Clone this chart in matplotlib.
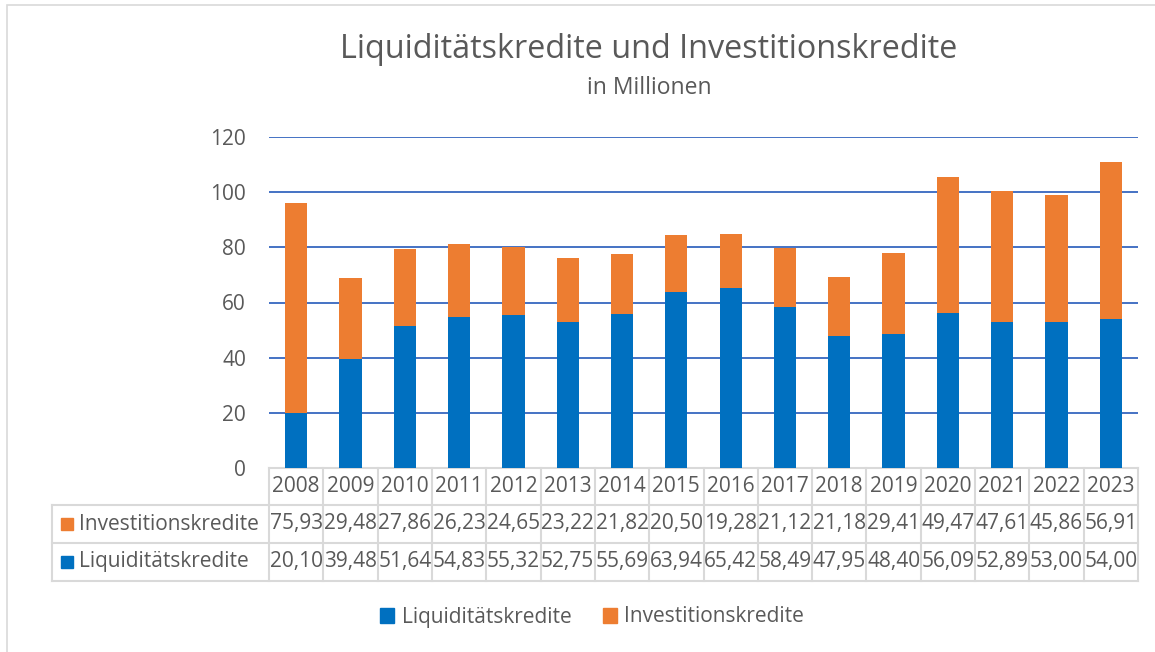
import matplotlib
matplotlib.use("Agg")
import matplotlib.pyplot as plt
from matplotlib.patches import Patch, Rectangle
from matplotlib.lines import Line2D

years = ["2008", "2009", "2010", "2011", "2012", "2013", "2014", "2015",
         "2016", "2017", "2018", "2019", "2020", "2021", "2022", "2023"]
liquiditaet = [20.10, 39.48, 51.64, 54.83, 55.32, 52.75, 55.69, 63.94,
               65.42, 58.49, 47.95, 48.40, 56.09, 52.89, 53.00, 54.00]
investition = [75.93, 29.48, 27.86, 26.23, 24.65, 23.22, 21.82, 20.50,
               19.28, 21.12, 21.18, 29.41, 49.47, 47.61, 45.86, 56.91]
series_names = ["Liquiditätskredite", "Investitionskredite"]
yticks = [0, 20, 40, 60, 80, 100, 120]

BLUE = "#0070C0"
ORANGE = "#ED7D31"
GRID = "#4472C4"
TXT = "#595959"
LINE = "#D9D9D9"

plt.rcParams['font.family'] = ['Open Sans', 'DejaVu Sans']

W, H = 1155, 652
fig = plt.figure(figsize=(W / 100, H / 100), dpi=100)

# outer border
fig.add_artist(Rectangle((7 / W, 1 - 700 / H), 1200 / W, 695 / H,
                         transform=fig.transFigure, fill=False,
                         edgecolor=LINE, linewidth=1.2))

x0, x1 = 269, 1138
ytop, ybot = 137, 468
ax = fig.add_axes([x0 / W, 1 - ybot / H, (x1 - x0) / W, (ybot - ytop) / H])
n = len(years)
xs = list(range(n))
ax.bar(xs, liquiditaet, width=0.41, color=BLUE, zorder=3)
ax.bar(xs, investition, width=0.41, bottom=liquiditaet, color=ORANGE, zorder=3)
ax.set_xlim(-0.5, n - 0.5)
ax.set_ylim(0, 120)
ax.set_yticks(yticks)
ax.set_yticklabels([str(v) for v in yticks])
ax.yaxis.grid(True, color=GRID, linewidth=1.4, zorder=0)
ax.set_xticks([])
for s in ["top", "right", "left"]:
    ax.spines[s].set_visible(False)
ax.spines["bottom"].set_color(LINE)
ax.spines["bottom"].set_linewidth(1.5)
ax.tick_params(axis="y", length=0, pad=16.5, labelsize=15, labelcolor=TXT)

# data table
def ay(py):
    return (ybot - py) / (ybot - ytop)

r0, r1, r2, r3 = 468, 505, 543, 581
lk = dict(color=LINE, linewidth=1.5, clip_on=False, zorder=1)
tr = ax.get_xaxis_transform()
for i in range(n + 1):
    xb = i - 0.5
    ax.add_line(Line2D([xb, xb], [ay(r0), ay(r3)], transform=tr, **lk))
xleft_ax = (52 - x0) / (x1 - x0)
for py in (r1, r2, r3):
    ax.add_line(Line2D([xleft_ax, 1], [ay(py), ay(py)], transform=ax.transAxes, **lk))
ax.add_line(Line2D([xleft_ax, xleft_ax], [ay(r1), ay(r3)], transform=ax.transAxes, **lk))

fs_tab = 15
for i, yr in enumerate(years):
    ax.text(i, ay((r0 + r1) / 2), yr, transform=tr, ha="center", va="center",
            fontsize=fs_tab, color=TXT, clip_on=False)
    ax.text(i, ay((r1 + r2) / 2), f"{investition[i]:.2f}".replace(".", ","),
            transform=tr, ha="center", va="center", fontsize=fs_tab, color=TXT,
            clip_on=False)
    ax.text(i, ay((r2 + r3) / 2), f"{liquiditaet[i]:.2f}".replace(".", ","),
            transform=tr, ha="center", va="center", fontsize=fs_tab, color=TXT,
            clip_on=False)

for (name, col, (ra, rb)) in [(series_names[1], ORANGE, (r1, r2)),
                              (series_names[0], BLUE, (r2, r3))]:
    yc = (ra + rb) / 2
    fig.add_artist(Rectangle((61 / W, 1 - (yc + 6) / H), 12 / W, 12 / H,
                             transform=fig.transFigure, color=col))
    fig.text(79 / W, 1 - yc / H, name, ha="left", va="center",
             fontsize=fs_tab, color=TXT)

# titles
fig.text(649 / W, 1 - 50 / H, "Liquiditätskredite und Investitionskredite",
         ha="center", va="center", fontsize=23.3, color=TXT)
fig.text(649 / W, 1 - 88 / H, "in Millionen", ha="center", va="center",
         fontsize=16.5, color=TXT)

# legend
handles = [Patch(color=BLUE, label=series_names[0]),
           Patch(color=ORANGE, label=series_names[1])]
fig.legend(handles=handles, loc="center", bbox_to_anchor=(592 / W, 1 - 617 / H),
           ncol=2, frameon=False, fontsize=15, labelcolor=TXT,
           handlelength=0.7, handleheight=0.7, handletextpad=0.35, columnspacing=1.5)

fig.savefig("out.png", dpi=100)
